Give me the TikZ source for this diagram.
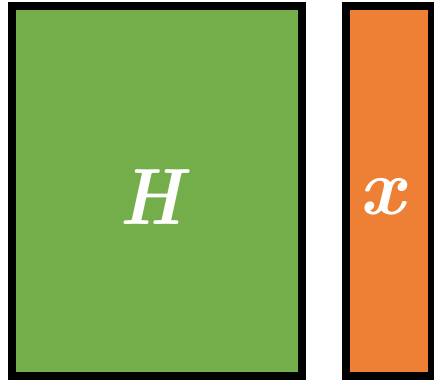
\documentclass[tikz,border=0pt]{standalone}
\usepackage{fontspec}
\begin{document}
\begin{tikzpicture}[x=1pt,y=-1pt,
  blk/.style={draw=black,line width=8pt},
  lbl/.style={text=white,font=\fontsize{80}{80}\selectfont\bfseries\itshape,inner sep=0pt}]
\useasboundingbox (0,0) rectangle (434,381);
\begin{scope}
\clip (0,0) rectangle (434,381);
\definecolor{hgreen}{RGB}{116,174,74}
\definecolor{xorange}{RGB}{237,128,52}
\path[blk,fill=hgreen] (12,6) rectangle (302,376);
\path[blk,fill=xorange] (346,6) rectangle (432,376);
\end{scope}
\node[lbl,xscale=0.88] (H) at (151,197) {H};
\node[lbl] (x) at (382,197) {x};
\end{tikzpicture}
\end{document}
